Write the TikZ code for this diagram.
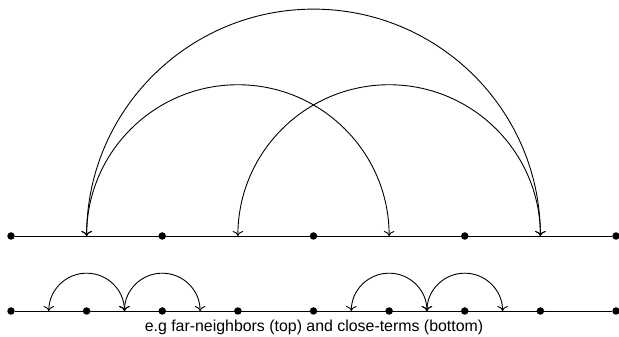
\documentclass[tikz,border=0pt]{standalone}
\usepackage{fontspec}
\setmainfont{Liberation Sans}
\usetikzlibrary{arrows.meta}

\begin{document}
\begin{tikzpicture}[
    x=1pt, y=1pt, >={To[scale=1.4]},
    every node/.style={font=\fontsize{15.9}{19}\selectfont},
    dot/.style={circle, fill=black, inner sep=0pt, minimum size=7.5pt},
    hop/.style={<->, line width=0.9pt},
]
    \useasboundingbox (0,0) rectangle (619,337);

    \def\xo{11}       % first point
    \def\gap{151.25}  % spacing of top points
    \def\ytop{101}
    \def\ybot{26}

    % ── Top row (far-neighbors) ──────────────────
    \foreach \i in {0,...,4}
        \node[dot] (t\i) at ({\xo+\i*\gap}, \ytop) {};
    \foreach \i in {0,...,3}
        \coordinate (tm\i) at ({\xo+(\i+0.5)*\gap}, \ytop);
    \draw[line width=0.9pt] (t0) -- (t4);

    \draw[hop] (tm0) arc[start angle=180, end angle=0, radius=1.5*\gap];
    \draw[hop] (tm0) arc[start angle=180, end angle=0, radius=\gap];
    \draw[hop] (tm1) arc[start angle=180, end angle=0, radius=\gap];

    % ── Bottom row (close-terms) ─────────────────
    \foreach \i in {0,...,8}
        \node[dot] (b\i) at ({\xo+\i*\gap/2}, \ybot) {};
    \foreach \i in {1,3,5,9,11,13}
        \coordinate (bq\i) at ({\xo+\i*\gap/4}, \ybot);
    \draw[line width=0.9pt] (b0) -- (b8);

    \draw[hop] (bq1) arc[start angle=180, end angle=0, radius=\gap/4];
    \draw[hop] (bq3) arc[start angle=180, end angle=0, radius=\gap/4];
    \draw[hop] (bq9) arc[start angle=180, end angle=0, radius=\gap/4];
    \draw[hop] (bq11) arc[start angle=180, end angle=0, radius=\gap/4];

    % ── Caption ──────────────────────────────────
    \node (caption) at (314, 10) {e.g far-neighbors (top) and close-terms (bottom)};
\end{tikzpicture}
\end{document}
